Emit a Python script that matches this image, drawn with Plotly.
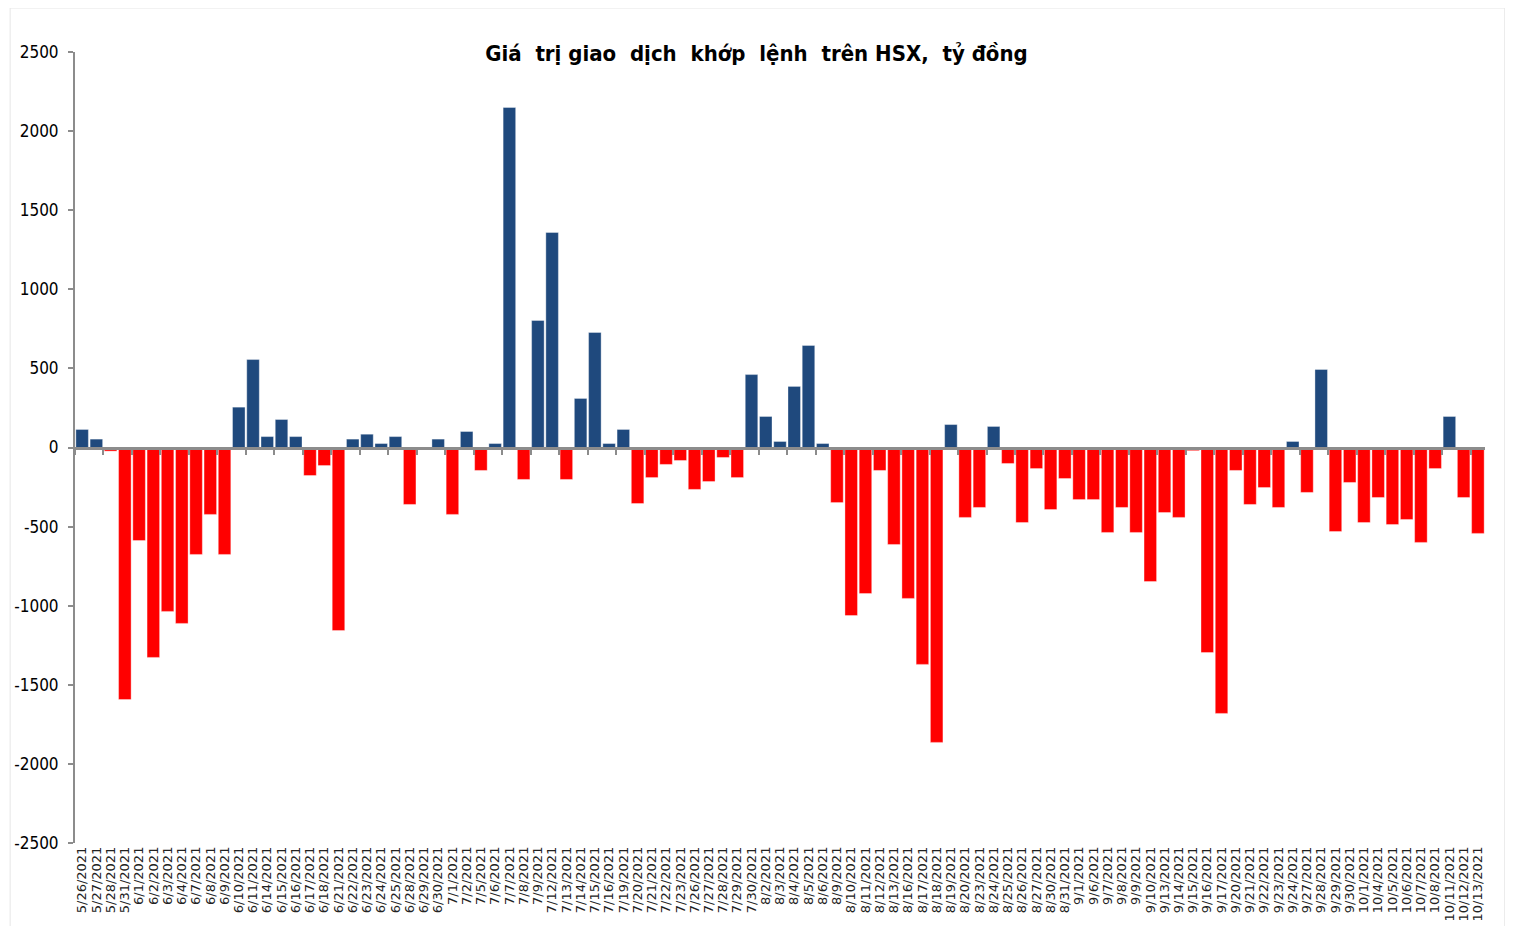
import plotly.graph_objects as go

dates = [
    "5/26/2021", "5/27/2021", "5/28/2021", "5/31/2021",
    "6/1/2021", "6/2/2021", "6/3/2021", "6/4/2021", "6/7/2021", "6/8/2021", "6/9/2021",
    "6/10/2021", "6/11/2021", "6/14/2021", "6/15/2021", "6/16/2021", "6/17/2021", "6/18/2021",
    "6/21/2021", "6/22/2021", "6/23/2021", "6/24/2021", "6/25/2021", "6/28/2021", "6/29/2021",
    "6/30/2021",
    "7/1/2021", "7/2/2021", "7/5/2021", "7/6/2021", "7/7/2021", "7/8/2021", "7/9/2021",
    "7/12/2021", "7/13/2021", "7/14/2021", "7/15/2021", "7/16/2021", "7/19/2021", "7/20/2021",
    "7/21/2021", "7/22/2021", "7/23/2021", "7/26/2021", "7/27/2021", "7/28/2021", "7/29/2021",
    "7/30/2021",
    "8/2/2021", "8/3/2021", "8/4/2021", "8/5/2021", "8/6/2021", "8/9/2021", "8/10/2021",
    "8/11/2021", "8/12/2021", "8/13/2021", "8/16/2021", "8/17/2021", "8/18/2021", "8/19/2021",
    "8/20/2021", "8/23/2021", "8/24/2021", "8/25/2021", "8/26/2021", "8/27/2021", "8/30/2021",
    "8/31/2021",
    "9/1/2021", "9/6/2021", "9/7/2021", "9/8/2021", "9/9/2021", "9/10/2021", "9/13/2021",
    "9/14/2021", "9/15/2021", "9/16/2021", "9/17/2021", "9/20/2021", "9/21/2021", "9/22/2021",
    "9/23/2021", "9/24/2021", "9/27/2021", "9/28/2021", "9/29/2021", "9/30/2021",
    "10/1/2021", "10/4/2021", "10/5/2021", "10/6/2021", "10/7/2021", "10/8/2021",
    "10/11/2021", "10/12/2021", "10/13/2021",
]

values = [
    114, 53, -23, -1593,
    -588, -1327, -1036, -1112, -676, -423, -676,
    255, 556, 69, 177, 69, -177, -114,
    -1157, 53, 84, 25, 69, -360, 0,
    53,
    -423, 101, -145, 25, 2149, -202, 803,
    1359, -202, 310, 727, 25, 114, -354,
    -190, -107, -82, -265, -215, -63, -190,
    461,
    196, 38, 386, 645, 25, -348, -1062,
    -923, -145, -613, -954, -1371, -1864, 145,
    -442, -379, 133, -101, -474, -133, -392,
    -196,
    -329, -329, -537, -379, -537, -847, -411,
    -442, -20, -1296, -1681, -145, -360, -253,
    -379, 38, -284, 493, -531, -221,
    -474, -316, -487, -455, -600, -133,
    196, -316, -543,
]

y_ticks = [-2500, -2000, -1500, -1000, -500, 0, 500, 1000, 1500, 2000, 2500]
y_tick_text = [str(v) for v in y_ticks]

BLUE = "#1F497D"
RED = "#FF0000"
colors = [BLUE if v >= 0 else RED for v in values]

COND = "DejaVu Sans Condensed, Liberation Sans, sans-serif"

fig = go.Figure()
fig.add_trace(go.Bar(
    x=dates, y=values,
    marker=dict(color=colors, line=dict(color="rgba(255,255,255,0.6)", width=0.6)),
    showlegend=False,
))
# invisible helper trace to carry the zero-line category axis with ticks
fig.add_trace(go.Scatter(
    x=dates, y=values, xaxis="x2", mode="markers",
    marker=dict(opacity=0), hoverinfo="skip", showlegend=False,
))

fig.update_layout(
    width=1497, height=918,
    paper_bgcolor="white", plot_bgcolor="white",
    margin=dict(l=67, r=20, t=44, b=83, autoexpand=False),
    bargap=0.12,
    title=dict(
        text="<b>Giá  trị giao  dịch  khớp  lệnh  trên HSX,  tỷ đồng</b>",
        x=0.5, xanchor="center", y=1 - 45 / 918, yanchor="middle", yref="container",
        font=dict(family=COND, size=22, color="black"),
    ),
    xaxis=dict(
        type="category", categoryorder="array", categoryarray=dates,
        tickmode="array", tickvals=dates, ticktext=dates,
        tickangle=-90, showgrid=False, showline=False, ticks="",
        tickfont=dict(family="DejaVu Sans", size=13, color="#222"),
        range=[-0.5, len(dates) - 0.5],
    ),
    xaxis2=dict(
        type="category", categoryorder="array", categoryarray=dates,
        overlaying="x", anchor="free", position=0.5, matches="x",
        showline=True, linecolor="#8c8c8c", linewidth=2.5,
        ticks="outside", ticklen=6, tickwidth=2, tickcolor="#8c8c8c",
        tickson="boundaries", showticklabels=False, showgrid=False,
    ),
    yaxis=dict(
        range=[-2500, 2500], tickmode="array", tickvals=y_ticks, ticktext=y_tick_text,
        showgrid=False, zeroline=False,
        showline=True, linecolor="#8c8c8c", linewidth=2,
        ticks="outside", ticklen=5, tickwidth=2, tickcolor="#8c8c8c",
        tickfont=dict(family=COND, size=17, color="black"),
        ticklabelstandoff=6,
    ),
    shapes=[dict(
        type="rect", xref="paper", yref="paper",
        x0=-0.046, x1=1.014, y0=-0.2, y1=1.0556,
        line=dict(color="#e6e6e6", width=1), layer="below",
    )],
)

fig.write_html("out.html")
